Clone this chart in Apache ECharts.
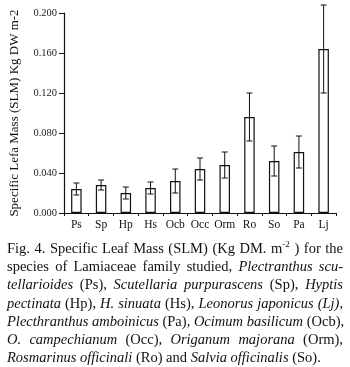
<!DOCTYPE html>
<html>
<head>
<meta charset="utf-8">
<script src="https://cdn.jsdelivr.net/npm/echarts@6/dist/echarts.min.js"></script>
<style>
  html, body { margin: 0; padding: 0; background: #fff; }
  #main { position: absolute; left: 0; top: 0; width: 350px; height: 367px; }
  #caption {
    position: absolute; left: 7px; top: 239px; width: 336px;
    font-family: "Liberation Serif", "DejaVu Serif", serif;
    font-size: 14.5px; line-height: 18.2px; color: #111;
  }
  #caption div { text-align: justify; text-align-last: justify; white-space: nowrap; }
  #caption div.last { text-align-last: left; }
</style>
</head>
<body>
<div id="main"></div>
<div id="caption">
  <div>Fig. 4. Specific Leaf Mass (SLM) (Kg DM. m<sup style="font-size:9px;line-height:0">-2</sup> ) for the</div>
  <div>species of Lamiaceae family studied, <i>Plectranthus scu-</i></div>
  <div><i>tellarioides</i> (Ps), <i>Scutellaria purpurascens</i> (Sp), <i>Hyptis</i></div>
  <div><i>pectinata</i> (Hp), <i>H. sinuata</i> (Hs), <i>Leonorus japonicus (Lj),</i></div>
  <div><i>Plecthranthus amboinicus</i> (Pa), <i>Ocimum basilicum</i> (Ocb),</div>
  <div><i>O. campechianum</i> (Occ), <i>Origanum majorana</i> (Orm),</div>
  <div class="last"><i>Rosmarinus officinali</i> (Ro) and <i>Salvia officinalis</i> (So).</div>
</div>
<script>
  // 物种缩写
  const categories = ["Ps", "Sp", "Hp", "Hs", "Ocb", "Occ", "Orm", "Ro", "So", "Pa", "Lj"];
  // SLM 平均值
  const slmValues = [0.024, 0.028, 0.020, 0.025, 0.032, 0.044, 0.048, 0.096, 0.052, 0.061, 0.164];
  // 误差（±）
  const slmErrors = [0.006, 0.005, 0.006, 0.006, 0.012, 0.011, 0.013, 0.024, 0.015, 0.016, 0.044];
  const yTicks = [0, 0.04, 0.08, 0.12, 0.16, 0.2];

  const serif = "Liberation Serif";
  const errData = categories.map((c, i) => [i, slmValues[i] - slmErrors[i], slmValues[i] + slmErrors[i]]);

  let myChart = echarts.init(document.getElementById("main"));
  let option = {
    animation: false,
    grid: { left: 60, right: 14, top: 13, bottom: 154 },
    xAxis: {
      type: "category",
      data: categories,
      axisLine: { lineStyle: { color: "#111", width: 1 } },
      axisTick: { show: true, length: 3, lineStyle: { color: "#111" } },
      axisLabel: { interval: 0, color: "#111", fontFamily: serif, fontSize: 11.5, margin: 6 },
    },
    yAxis: {
      type: "value",
      min: yTicks[0],
      max: yTicks[yTicks.length - 1],
      interval: 0.04,
      name: "Specific Lefa Mass (SLM) Kg DW m-2",
      nameLocation: "middle",
      nameGap: 43,
      nameTextStyle: { color: "#111", fontFamily: serif, fontSize: 13 },
      splitLine: { show: false },
      axisLine: { show: true, lineStyle: { color: "#111", width: 1.2 } },
      axisTick: { show: true, length: 5, lineStyle: { color: "#111" } },
      axisLabel: {
        color: "#222",
        fontFamily: serif,
        fontSize: 10.5,
        margin: 7,
        formatter: (v) => v.toFixed(3),
      },
    },
    series: [
      {
        type: "bar",
        data: slmValues,
        barWidth: 10.5,
        itemStyle: { color: "#fff", borderColor: "#111", borderWidth: 1.2 },
      },
      {
        type: "custom",
        clip: false,
        data: errData,
        renderItem: (params, api) => {
          let x = api.coord([api.value(0), api.value(1)])[0];
          let yLow = api.coord([api.value(0), api.value(1)])[1];
          let yHigh = api.coord([api.value(0), api.value(2)])[1];
          let cap = 3;
          let style = { stroke: "#111", lineWidth: 1 };
          return {
            type: "group",
            children: [
              { type: "line", shape: { x1: x, y1: yLow, x2: x, y2: yHigh }, style: style },
              { type: "line", shape: { x1: x - cap, y1: yHigh, x2: x + cap, y2: yHigh }, style: style },
              { type: "line", shape: { x1: x - cap, y1: yLow, x2: x + cap, y2: yLow }, style: style },
            ],
          };
        },
        z: 3,
      },
    ],
  };
  myChart.setOption(option);
</script>
</body>
</html>
